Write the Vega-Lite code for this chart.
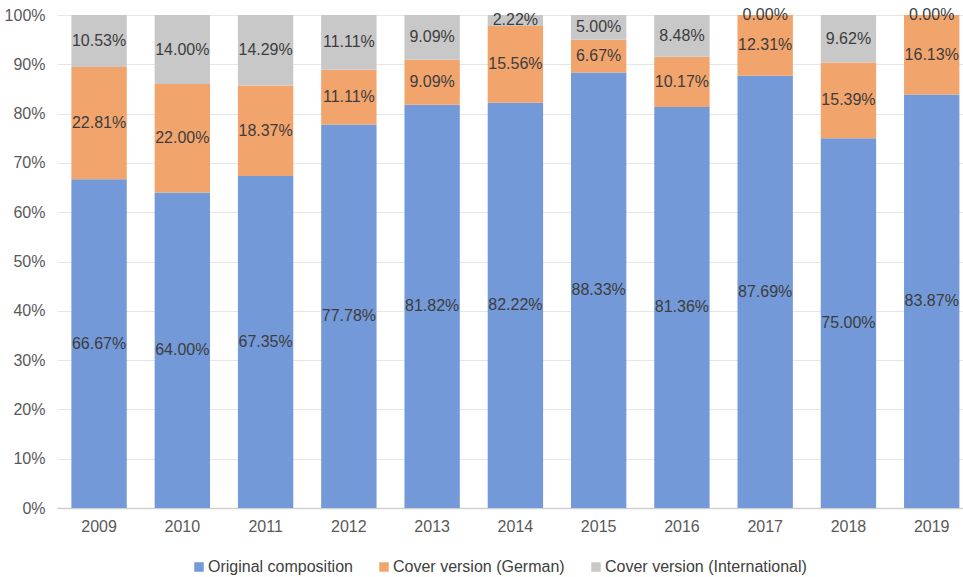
{
  "$schema": "https://vega.github.io/schema/vega-lite/v6.json",
  "width": 906,
  "height": 493,
  "autosize": "none",
  "padding": {"left": 57, "top": 15, "right": 0, "bottom": 69},
  "background": "white",
  "config": {
    "font": "Liberation Sans",
    "view": {"stroke": null}
  },
  "data": {
    "values": [
      {"year": "2009", "series": "Original composition", "value": 66.67},
      {"year": "2009", "series": "Cover version (German)", "value": 22.81},
      {"year": "2009", "series": "Cover version (International)", "value": 10.53},
      {"year": "2010", "series": "Original composition", "value": 64.00},
      {"year": "2010", "series": "Cover version (German)", "value": 22.00},
      {"year": "2010", "series": "Cover version (International)", "value": 14.00},
      {"year": "2011", "series": "Original composition", "value": 67.35},
      {"year": "2011", "series": "Cover version (German)", "value": 18.37},
      {"year": "2011", "series": "Cover version (International)", "value": 14.29},
      {"year": "2012", "series": "Original composition", "value": 77.78},
      {"year": "2012", "series": "Cover version (German)", "value": 11.11},
      {"year": "2012", "series": "Cover version (International)", "value": 11.11},
      {"year": "2013", "series": "Original composition", "value": 81.82},
      {"year": "2013", "series": "Cover version (German)", "value": 9.09},
      {"year": "2013", "series": "Cover version (International)", "value": 9.09},
      {"year": "2014", "series": "Original composition", "value": 82.22},
      {"year": "2014", "series": "Cover version (German)", "value": 15.56},
      {"year": "2014", "series": "Cover version (International)", "value": 2.22},
      {"year": "2015", "series": "Original composition", "value": 88.33},
      {"year": "2015", "series": "Cover version (German)", "value": 6.67},
      {"year": "2015", "series": "Cover version (International)", "value": 5.00},
      {"year": "2016", "series": "Original composition", "value": 81.36},
      {"year": "2016", "series": "Cover version (German)", "value": 10.17},
      {"year": "2016", "series": "Cover version (International)", "value": 8.48},
      {"year": "2017", "series": "Original composition", "value": 87.69},
      {"year": "2017", "series": "Cover version (German)", "value": 12.31},
      {"year": "2017", "series": "Cover version (International)", "value": 0.00},
      {"year": "2018", "series": "Original composition", "value": 75.00},
      {"year": "2018", "series": "Cover version (German)", "value": 15.39},
      {"year": "2018", "series": "Cover version (International)", "value": 9.62},
      {"year": "2019", "series": "Original composition", "value": 83.87},
      {"year": "2019", "series": "Cover version (German)", "value": 16.13},
      {"year": "2019", "series": "Cover version (International)", "value": 0.00}
    ]
  },
  "transform": [
    {"calculate": "indexof(['Original composition','Cover version (German)','Cover version (International)'], datum.series)", "as": "ord"},
    {"stack": "value", "groupby": ["year"], "sort": [{"field": "ord", "order": "ascending"}], "offset": "normalize", "as": ["y0", "y1"]},
    {"calculate": "(datum.y0 + datum.y1) / 2", "as": "ymid"},
    {"calculate": "format(datum.value, '.2f') + '%'", "as": "label"}
  ],
  "encoding": {
    "x": {
      "field": "year",
      "type": "ordinal",
      "title": null,
      "scale": {"paddingInner": 0.335, "paddingOuter": 0.108, "align": 0.8},
      "axis": {
        "labelAngle": 0,
        "labelFontSize": 16,
        "labelColor": "#595959",
        "labelPadding": 10,
        "ticks": false,
        "domainColor": "#d0d0d0",
        "domainWidth": 1.5
      }
    }
  },
  "layer": [
    {
      "mark": {"type": "bar"},
      "encoding": {
        "y": {
          "field": "y0",
          "type": "quantitative",
          "title": null,
          "scale": {"domain": [0, 1], "nice": false},
          "axis": {
            "format": ".0%",
            "values": [0, 0.1, 0.2, 0.3, 0.4, 0.5, 0.6, 0.7, 0.8, 0.9, 1],
            "labelFontSize": 16,
            "labelColor": "#595959",
            "labelPadding": 12,
            "ticks": false,
            "domain": false,
            "gridColor": "#e6e6e6",
            "gridWidth": 1
          }
        },
        "y2": {"field": "y1"},
        "color": {
          "field": "series",
          "type": "nominal",
          "scale": {
            "domain": ["Original composition", "Cover version (German)", "Cover version (International)"],
            "range": ["#7399d8", "#f2a46d", "#c8c8c8"]
          },
          "legend": {
            "title": null,
            "orient": "none",
            "direction": "horizontal",
            "legendX": 134,
            "legendY": 544,
            "symbolType": "square",
            "symbolSize": 90,
            "symbolStrokeWidth": 0,
            "labelFontSize": 16,
            "labelColor": "#404040",
            "labelOffset": 1,
            "labelLimit": 0,
            "columnPadding": 23
          }
        }
      }
    },
    {
      "mark": {"type": "text", "fontSize": 16, "color": "#3d3d3d", "align": "center", "baseline": "middle"},
      "encoding": {
        "y": {"field": "ymid", "type": "quantitative"},
        "text": {"field": "label", "type": "nominal"}
      }
    }
  ]
}
